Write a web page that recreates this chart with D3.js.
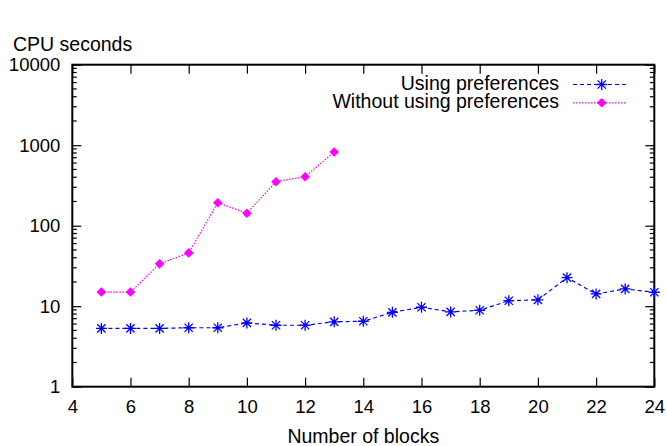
<!DOCTYPE html>
<html>
<head>
<meta charset="utf-8">
<script src="https://cdn.jsdelivr.net/npm/d3@7"></script>
<style>
  body { margin: 0; background: #fff; }
  text { font-family: "Liberation Sans", Arial, sans-serif; }
</style>
</head>
<body>
<div id="chart"></div>
<script>
// values
const blocks = [5, 6, 7, 8, 9, 10, 11, 12, 13, 14, 15, 16, 17, 18, 19, 20, 21, 22, 23, 24];
const usingPrefs = [5.3, 5.3, 5.3, 5.4, 5.4, 6.2, 5.8, 5.8, 6.4, 6.5, 8.4, 9.7, 8.5, 8.9, 11.7, 12.0, 22.6, 14.2, 16.4, 14.9];
const withoutBlocks = [5, 6, 7, 8, 9, 10, 11, 12, 13];
const withoutPrefs = [15, 15, 33.6, 45.9, 193, 143, 352, 406, 824];
const xTicks = [4, 6, 8, 10, 12, 14, 16, 18, 20, 22, 24];
const yTicks = [1, 10, 100, 1000, 10000];
const seriesNames = ["Using preferences", "Without using preferences"];

const W = 667, H = 446;
const margin = {top: 64.7, right: 12.7, bottom: 59.3, left: 72.3};
const width = W - margin.left - margin.right;
const height = H - margin.top - margin.bottom;
const tickFont = 18.5;
const labelFont = 19.5;

const svg = d3.select("#chart").append("svg")
    .attr("width", W)
    .attr("height", H);

const chart = svg.append("g")
    .attr("transform", "translate(" + margin.left + "," + margin.top + ")");

const x = d3.scaleLinear().domain([4, 24]).range([0, width]);
const y = d3.scaleLog().domain([1, 10000]).range([height, 0]);

// minor log ticks 2..9 in every decade
const minorTicks = [];
yTicks.slice(0, -1).forEach(d => {
  for (let k = 2; k <= 9; k++) minorTicks.push(d * k);
});

// axes with labels, ticks pointing inward
const xAxis = chart.append("g")
    .attr("transform", "translate(0," + height + ")")
    .call(d3.axisBottom(x).tickValues(xTicks).tickFormat(d3.format("d"))
      .tickSizeInner(-9).tickSizeOuter(0).tickPadding(13.5));
const yAxis = chart.append("g")
    .call(d3.axisLeft(y).tickValues(yTicks).tickFormat(d3.format("d"))
      .tickSizeInner(-9).tickSizeOuter(0).tickPadding(12));

[xAxis, yAxis].forEach(a => {
  a.select(".domain").remove();
  a.selectAll("line").attr("stroke", "#000").attr("stroke-width", 1.2);
  a.selectAll("text")
    .attr("fill", "#000")
    .style("font-size", tickFont + "px")
    .style("font-family", "'Liberation Sans', Arial, sans-serif");
});

// top and right ticks (mirror)
chart.append("g")
    .call(d3.axisTop(x).tickValues(xTicks).tickFormat("").tickSizeInner(-9).tickSizeOuter(0))
    .call(g => g.select(".domain").remove())
    .selectAll("line").attr("stroke", "#000").attr("stroke-width", 1.2);
chart.append("g")
    .attr("transform", "translate(" + width + ",0)")
    .call(d3.axisRight(y).tickValues(yTicks).tickFormat("").tickSizeInner(-9).tickSizeOuter(0))
    .call(g => g.select(".domain").remove())
    .selectAll("line").attr("stroke", "#000").attr("stroke-width", 1.2);

// minor ticks, both sides
chart.append("g").selectAll("line")
    .data(minorTicks).join("line")
    .attr("x1", 0).attr("x2", 4.5)
    .attr("y1", d => y(d)).attr("y2", d => y(d))
    .attr("stroke", "#000").attr("stroke-width", 1.2);
chart.append("g").selectAll("line")
    .data(minorTicks).join("line")
    .attr("x1", width).attr("x2", width - 4.5)
    .attr("y1", d => y(d)).attr("y2", d => y(d))
    .attr("stroke", "#000").attr("stroke-width", 1.2);

// frame
chart.append("rect")
    .attr("width", width)
    .attr("height", height)
    .attr("fill", "none")
    .attr("stroke", "#000")
    .attr("stroke-width", 2);

// axis titles
svg.append("text")
    .attr("x", 13)
    .attr("y", 51)
    .style("font-size", labelFont + "px")
    .text("CPU seconds");
svg.append("text")
    .attr("x", margin.left + width / 2)
    .attr("y", 442.5)
    .attr("text-anchor", "middle")
    .style("font-size", labelFont + "px")
    .text("Number of blocks");

const line = d3.line()
    .x(d => x(d[0]))
    .y(d => y(d[1]));

const starPath = s => "M" + (-s) + ",0H" + s + "M0," + (-s) + "V" + s +
    "M" + (-s * 0.75) + "," + (-s * 0.75) + "L" + (s * 0.75) + "," + (s * 0.75) +
    "M" + (-s * 0.75) + "," + (s * 0.75) + "L" + (s * 0.75) + "," + (-s * 0.75);
const diamondPath = s => "M0," + (-s) + "L" + s + ",0L0," + s + "L" + (-s) + ",0Z";

const series = [
  {name: seriesNames[0], data: d3.zip(blocks, usingPrefs), color: "#0000ff", dash: "4,3", marker: "star"},
  {name: seriesNames[1], data: d3.zip(withoutBlocks, withoutPrefs), color: "#ff00ff", dash: "1.5,1.5", marker: "diamond"}
];

function drawMarker(g, kind, color) {
  if (kind === "star") {
    g.append("path").attr("d", starPath(5.5))
      .attr("fill", "none").attr("stroke", color).attr("stroke-width", 1.3);
  } else {
    g.append("path").attr("d", diamondPath(4.8))
      .attr("fill", color).attr("stroke", "none");
  }
}

series.forEach(s => {
  chart.append("path")
      .datum(s.data)
      .attr("fill", "none")
      .attr("stroke", s.color)
      .attr("stroke-width", 1.2)
      .attr("stroke-dasharray", s.dash)
      .attr("d", line);
  s.data.forEach(d => {
    const g = chart.append("g")
        .attr("transform", "translate(" + x(d[0]) + "," + y(d[1]) + ")");
    drawMarker(g, s.marker, s.color);
  });
});

// legend (no box, right-aligned text)
const legend = svg.append("g");
series.forEach((s, i) => {
  const base = 90 + i * 18.3;
  const ly = base - 5.5;
  legend.append("text")
      .attr("x", 559)
      .attr("y", base)
      .attr("text-anchor", "end")
      .style("font-size", labelFont + "px")
      .text(s.name);
  legend.append("line")
      .attr("x1", 573).attr("x2", 627)
      .attr("y1", ly).attr("y2", ly)
      .attr("stroke", s.color)
      .attr("stroke-width", 1.2)
      .attr("stroke-dasharray", s.dash);
  const g = legend.append("g").attr("transform", "translate(601.7," + ly + ")");
  drawMarker(g, s.marker, s.color);
});
</script>
</body>
</html>
